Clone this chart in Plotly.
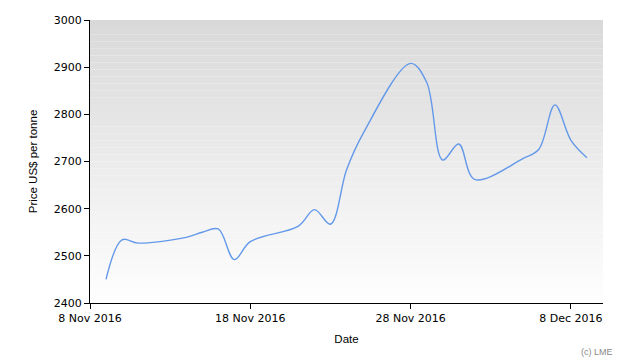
import plotly.graph_objects as go

dates = ["2016-11-09", "2016-11-10", "2016-11-11", "2016-11-14", "2016-11-15",
         "2016-11-16", "2016-11-17", "2016-11-18", "2016-11-21", "2016-11-22",
         "2016-11-23", "2016-11-24", "2016-11-25", "2016-11-28", "2016-11-29",
         "2016-11-30", "2016-12-01", "2016-12-02", "2016-12-05", "2016-12-06",
         "2016-12-07", "2016-12-08", "2016-12-09"]
prices = [2450, 2534, 2527, 2539, 2550,
          2557, 2492, 2530, 2563, 2598,
          2567, 2682, 2757, 2908, 2868,
          2703, 2737, 2662, 2706, 2726,
          2820, 2745, 2708]

tick_vals = ["2016-11-08", "2016-11-18", "2016-11-28", "2016-12-08"]
tick_text = ["8 Nov 2016", "18 Nov 2016", "28 Nov 2016", "8 Dec 2016"]
y_ticks = [2400, 2500, 2600, 2700, 2800, 2900, 3000]

fig = go.Figure()
fig.add_trace(go.Scatter(
    x=dates, y=prices, mode="lines",
    line=dict(color="#6499ea", width=1.4, shape="spline", smoothing=1.0),
    hoverinfo="x+y", showlegend=False,
))

# vertical gradient background of the plot area
n = 40
for i in range(n):
    t = i / (n - 1)
    c = int(round(217 + (254 - 217) * t))
    fig.add_shape(type="rect", xref="x domain", yref="y domain",
                  x0=0, x1=1, y0=1 - (i + 1) / n, y1=1 - i / n,
                  fillcolor=f"rgb({c},{c},{c})", line=dict(width=0),
                  layer="below")

fig.update_layout(
    width=630, height=360,
    margin=dict(l=90, r=27, t=20, b=57),
    paper_bgcolor="white", plot_bgcolor="white",
    font=dict(family="DejaVu Sans", size=11, color="#000000"),
    annotations=[dict(text="(c) LME", xref="paper", yref="paper",
                      x=1.0, y=-0.15, xanchor="right", yanchor="top",
                      xshift=12, showarrow=False,
                      font=dict(family="Liberation Sans", size=9, color="#888888"))],
)
fig.update_xaxes(
    range=["2016-11-08", "2016-12-10"],
    tickvals=tick_vals, ticktext=tick_text,
    showgrid=False, zeroline=False,
    showline=True, linecolor="black", linewidth=1,
    ticks="outside", ticklen=5, tickcolor="black",
    title=dict(text="Date", standoff=10,
               font=dict(family="Liberation Sans", size=11.5, color="#000000")),
)
fig.update_yaxes(
    range=[2400, 3000], tickvals=y_ticks,
    showgrid=False, zeroline=False,
    showline=True, linecolor="black", linewidth=1,
    ticks="outside", ticklen=5, tickcolor="black",
    title=dict(text="Price US$ per tonne", standoff=13,
               font=dict(family="Liberation Sans", size=11.5, color="#000000")),
)

fig.write_html("out.html")
